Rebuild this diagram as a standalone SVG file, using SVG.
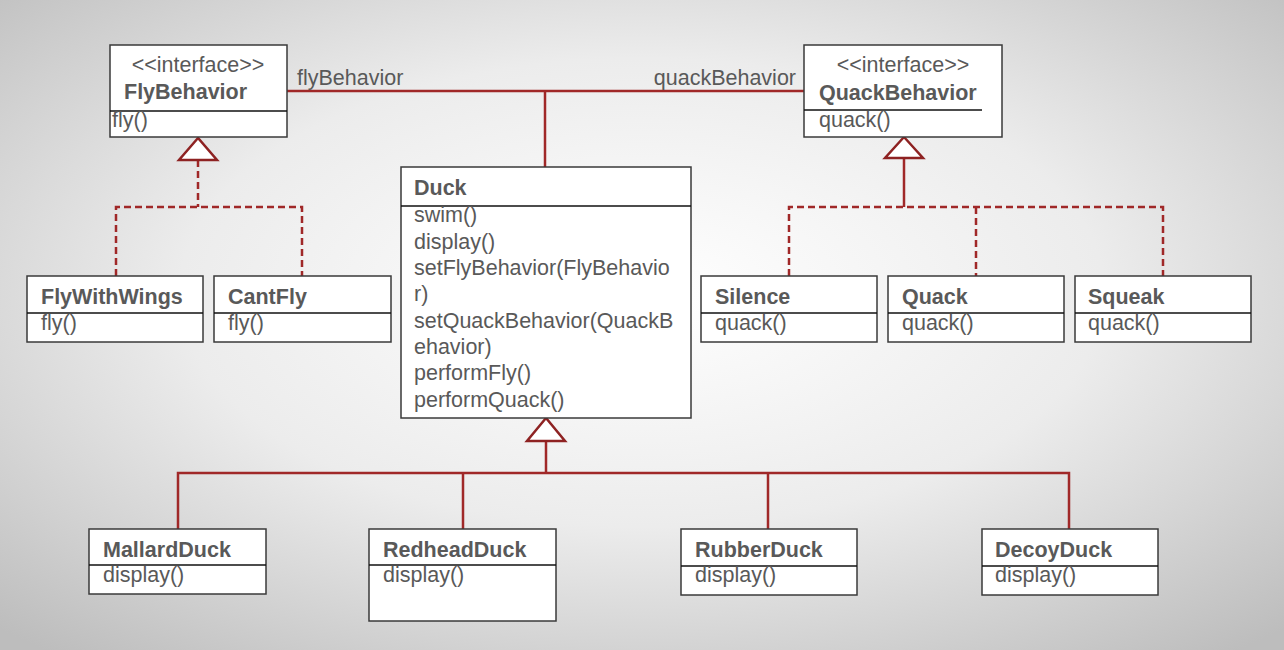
<svg xmlns="http://www.w3.org/2000/svg" width="1284" height="650" viewBox="0 0 1284 650">
<defs>
<radialGradient id="bg" cx="0.5" cy="0.45" r="0.72">
<stop offset="0" stop-color="#ffffff"/>
<stop offset="0.5" stop-color="#ececec"/>
<stop offset="1" stop-color="#bdbdbd"/>
</radialGradient>
<style>
.box{fill:#ffffff;stroke:#3a3a3a;stroke-width:1.5}
.div{stroke:#111111;stroke-width:1.5}
.t{font-family:"Liberation Sans",Arial,sans-serif;font-size:21.5px;fill:#595959}
.b{font-weight:bold}
.ln{fill:none;stroke:#a02828;stroke-width:2.5}
.dash{fill:none;stroke:#a02828;stroke-width:2.5;stroke-dasharray:7 4}
.tri{fill:#ffffff;stroke:#8e2222;stroke-width:2.5}
</style>
</defs>
<rect x="0" y="0" width="1284" height="650" fill="url(#bg)"/>

<g id="connectors">
<path class="ln" d="M287 91 H805 M545 91 V167"/>
<text class="t" x="297" y="85">flyBehavior</text>
<text class="t" x="796" y="85" text-anchor="end">quackBehavior</text>
<path class="dash" d="M198 160 V207 M116 276 V207 H302 V276"/>
<polygon class="tri" points="198,138 179,160 217,160"/>
<path class="ln" d="M904 158 V207"/>
<path class="dash" d="M789 276 V207 H1163 V276 M976 207 V276"/>
<polygon class="tri" points="904,137 885,158 923,158"/>
<path class="ln" d="M546 441 V473 M178 529 V473 H1069 V529 M463 473 V529 M768 473 V529"/>
<polygon class="tri" points="546,418 527,441 565,441"/>
</g>

<g id="FlyBehavior">
<rect class="box" x="110" y="45" width="177" height="92"/>
<line class="div" x1="110" y1="111" x2="287" y2="111"/>
<text class="t" x="198" y="72" text-anchor="middle">&lt;&lt;interface&gt;&gt;</text>
<text class="t b" x="124" y="99">FlyBehavior</text>
<text class="t" x="112" y="127">fly()</text>
</g>

<g id="QuackBehavior">
<rect class="box" x="804" y="45" width="198" height="92"/>
<line class="div" x1="804" y1="110" x2="982" y2="110"/>
<text class="t" x="903" y="72" text-anchor="middle">&lt;&lt;interface&gt;&gt;</text>
<text class="t b" x="819" y="100">QuackBehavior</text>
<text class="t" x="819" y="127">quack()</text>
</g>

<g id="Duck">
<rect class="box" x="401" y="167" width="290" height="251"/>
<line class="div" x1="401" y1="206" x2="691" y2="206"/>
<text class="t b" x="414" y="195">Duck</text>
<text class="t" x="414" y="222">swim()</text>
<text class="t" x="414" y="248.5">display()</text>
<text class="t" x="414" y="275">setFlyBehavior(FlyBehavio</text>
<text class="t" x="414" y="301">r)</text>
<text class="t" x="414" y="327.5">setQuackBehavior(QuackB</text>
<text class="t" x="414" y="354">ehavior)</text>
<text class="t" x="414" y="380">performFly()</text>
<text class="t" x="414" y="406.5">performQuack()</text>
</g>

<g id="FlyWithWings">
<rect class="box" x="27" y="276" width="176" height="66"/>
<line class="div" x1="27" y1="313" x2="203" y2="313"/>
<text class="t b" x="41" y="304">FlyWithWings</text>
<text class="t" x="41" y="330">fly()</text>
</g>

<g id="CantFly">
<rect class="box" x="214" y="276" width="177" height="66"/>
<line class="div" x1="214" y1="313" x2="391" y2="313"/>
<text class="t b" x="228" y="304">CantFly</text>
<text class="t" x="228" y="330">fly()</text>
</g>

<g id="Silence">
<rect class="box" x="701" y="276" width="176" height="66"/>
<line class="div" x1="701" y1="313" x2="877" y2="313"/>
<text class="t b" x="715" y="304">Silence</text>
<text class="t" x="715" y="330">quack()</text>
</g>

<g id="Quack">
<rect class="box" x="888" y="276" width="176" height="66"/>
<line class="div" x1="888" y1="313" x2="1064" y2="313"/>
<text class="t b" x="902" y="304">Quack</text>
<text class="t" x="902" y="330">quack()</text>
</g>

<g id="Squeak">
<rect class="box" x="1075" y="276" width="176" height="66"/>
<line class="div" x1="1075" y1="313" x2="1251" y2="313"/>
<text class="t b" x="1088" y="304">Squeak</text>
<text class="t" x="1088" y="330">quack()</text>
</g>

<g id="MallardDuck">
<rect class="box" x="89" y="529" width="177" height="65"/>
<line class="div" x1="89" y1="565" x2="266" y2="565"/>
<text class="t b" x="103" y="557">MallardDuck</text>
<text class="t" x="103" y="582">display()</text>
</g>

<g id="RedheadDuck">
<rect class="box" x="369" y="529" width="187" height="92"/>
<line class="div" x1="369" y1="565" x2="556" y2="565"/>
<text class="t b" x="383" y="557">RedheadDuck</text>
<text class="t" x="383" y="582">display()</text>
</g>

<g id="RubberDuck">
<rect class="box" x="681" y="529" width="176" height="66"/>
<line class="div" x1="681" y1="566" x2="857" y2="566"/>
<text class="t b" x="695" y="557">RubberDuck</text>
<text class="t" x="695" y="582">display()</text>
</g>

<g id="DecoyDuck">
<rect class="box" x="982" y="529" width="176" height="66"/>
<line class="div" x1="982" y1="566" x2="1158" y2="566"/>
<text class="t b" x="995" y="557">DecoyDuck</text>
<text class="t" x="995" y="582">display()</text>
</g>
</svg>
